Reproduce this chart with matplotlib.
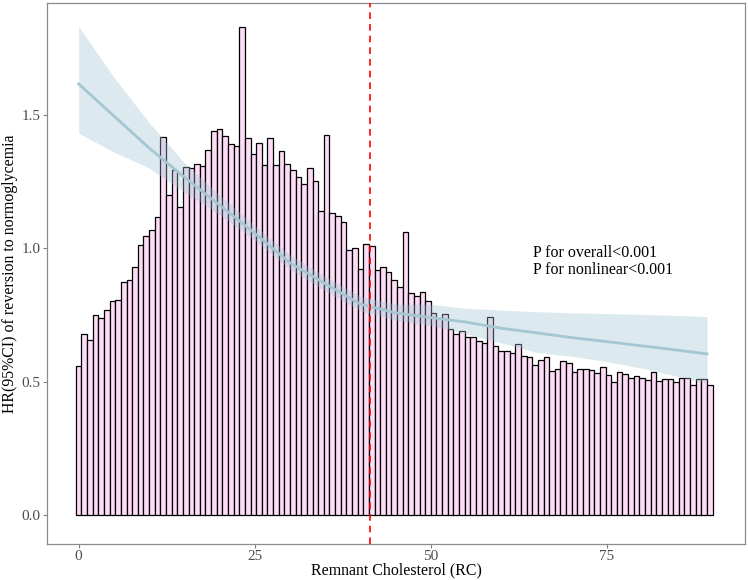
import matplotlib
matplotlib.use("Agg")
import matplotlib.pyplot as plt
import numpy as np

plt.rcParams["font.family"] = ["Liberation Serif", "DejaVu Serif"]

# histogram of RC (bin width 0.8, centres 0, 0.8, ..., 89.6), scaled to HR axis
bin_width = 0.8
bar_heights = [
    0.557, 0.680, 0.657, 0.751, 0.739, 0.767, 0.803, 0.806, 0.874, 0.879,
    0.930, 1.011, 1.045, 1.067, 1.118, 1.417, 1.199, 1.294, 1.154, 1.303,
    1.300, 1.316, 1.309, 1.369, 1.437, 1.447, 1.419, 1.390, 1.382, 1.827,
    1.412, 1.351, 1.393, 1.311, 1.414, 1.312, 1.363, 1.316, 1.291, 1.268,
    1.241, 1.301, 1.251, 1.139, 1.423, 1.133, 1.121, 1.098, 0.994, 1.001,
    0.922, 1.017, 1.007, 0.920, 0.930, 0.909, 0.879, 0.856, 1.062, 0.832,
    0.821, 0.836, 0.803, 0.759, 0.738, 0.754, 0.698, 0.677, 0.688, 0.667,
    0.667, 0.654, 0.644, 0.743, 0.633, 0.616, 0.616, 0.606, 0.641, 0.597,
    0.591, 0.562, 0.580, 0.593, 0.540, 0.549, 0.576, 0.570, 0.536, 0.547,
    0.547, 0.545, 0.534, 0.555, 0.525, 0.499, 0.536, 0.527, 0.515, 0.521,
    0.512, 0.507, 0.536, 0.503, 0.511, 0.511, 0.497, 0.514, 0.514, 0.489,
    0.509, 0.509, 0.489,
]

# restricted cubic spline estimate and 95% CI
rc_points = [0, 5, 10, 15, 20, 25, 30, 35, 40, 45, 50, 55, 60, 65, 70, 75, 80, 85, 89.2]
hr = [1.615, 1.495, 1.375, 1.266, 1.161, 1.056, 0.945, 0.867, 0.790, 0.758,
      0.740, 0.723, 0.700, 0.683, 0.665, 0.650, 0.634, 0.618, 0.604]
hr_lower = [1.430, 1.360, 1.300, 1.210, 1.125, 1.030, 0.920, 0.840, 0.765, 0.730,
            0.710, 0.680, 0.645, 0.610, 0.595, 0.575, 0.550, 0.520, 0.495]
hr_upper = [1.830, 1.640, 1.470, 1.320, 1.200, 1.085, 0.975, 0.895, 0.820, 0.790,
            0.790, 0.775, 0.768, 0.762, 0.758, 0.755, 0.752, 0.748, 0.744]

ref_rc = 41.3
p_text = "P for overall<0.001\nP for nonlinear<0.001"

fig = plt.figure(figsize=(7.48, 5.80), dpi=100)
ax = fig.add_axes([0.0628, 0.0620, 0.9332, 0.9328])

centres = np.arange(len(bar_heights)) * bin_width
ax.bar(centres, bar_heights, width=bin_width, color="#fddcf6",
       edgecolor="black", linewidth=0.9, zorder=1)

ax.fill_between(rc_points, hr_lower, hr_upper, color="#9dc3d2", alpha=0.35,
                linewidth=0, zorder=2)
ax.plot(rc_points, hr, color="#a5c6d2", linewidth=2, zorder=3)

ax.axvline(ref_rc, color="red", linestyle=(0, (4, 3)), linewidth=1.2, zorder=4)

ax.text(64.5, 0.95, p_text, fontsize=11.5, va="center", ha="left",
        linespacing=1.1, color="black")

ax.set_xlim(-4.5, 94.6)
ax.set_ylim(-0.108, 1.918)
ax.set_xticks([0, 25, 50, 75])
ax.set_yticks([0.0, 0.5, 1.0, 1.5])
ax.set_yticklabels(["0.0", "0.5", "1.0", "1.5"])
ax.tick_params(labelsize=11, length=3, width=0.8, pad=1.5,
               colors="#7f7f7f", labelcolor="#4d4d4d")

for spine in ax.spines.values():
    spine.set_color("#8c8c8c")
    spine.set_linewidth(0.9)

ax.set_xlabel("Remnant Cholesterol (RC)", fontsize=11.4, labelpad=-1)
ax.set_ylabel("HR(95%CI) of reversion to normoglycemia", fontsize=11.4, labelpad=3)

fig.savefig("out.png", dpi=100)
